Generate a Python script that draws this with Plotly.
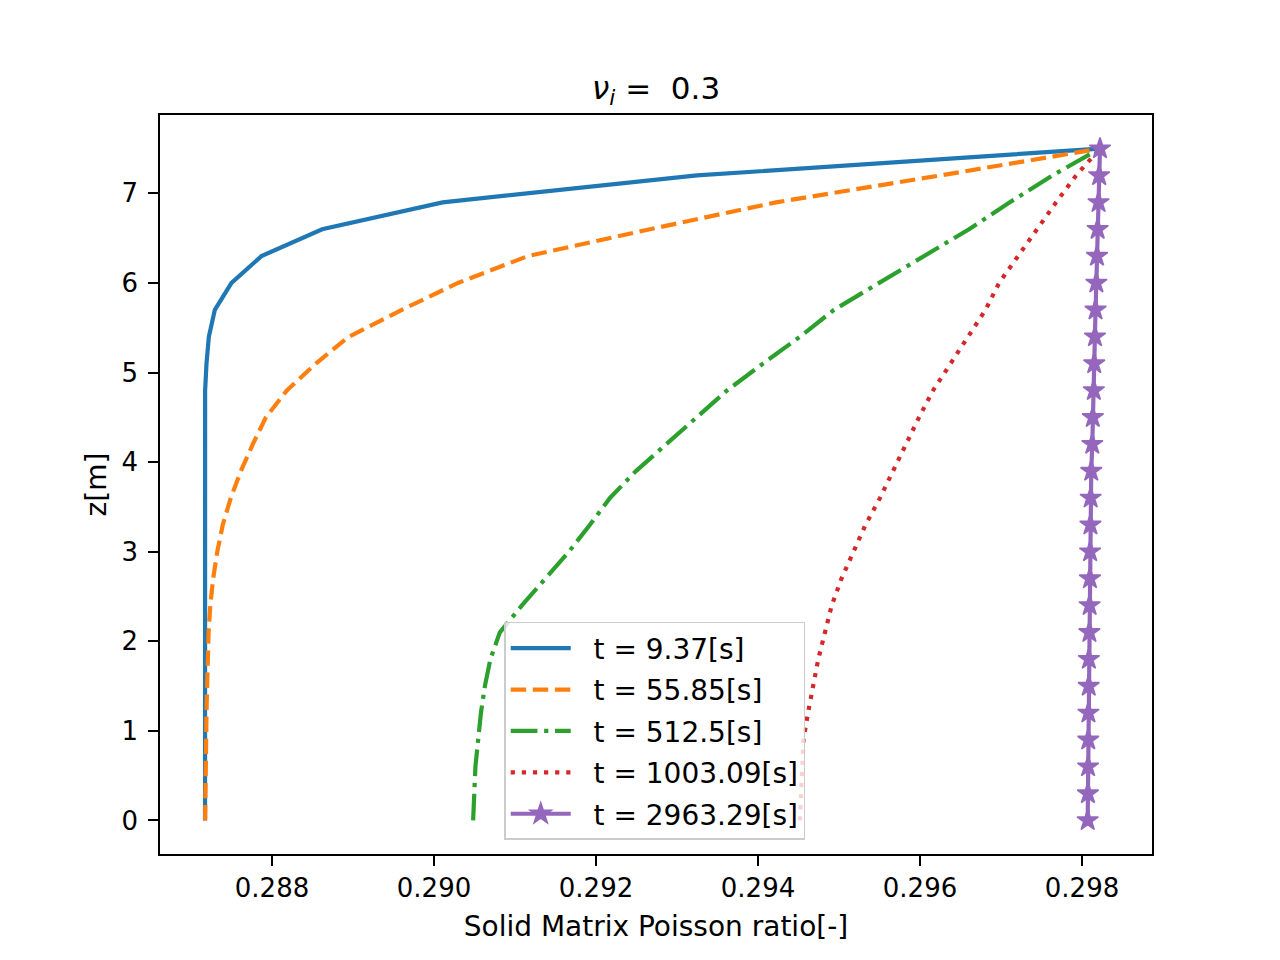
import plotly.graph_objects as go

# depth positions (m)
z = [0.0, 0.3, 0.6, 0.9, 1.2, 1.5, 1.8, 2.1, 2.4, 2.7, 3.0, 3.3, 3.6,
     3.9, 4.2, 4.5, 4.8, 5.1, 5.4, 5.7, 6.0, 6.3, 6.6, 6.9, 7.2, 7.5]

nu_t1 = [0.287173, 0.287173, 0.287173, 0.287173, 0.287173, 0.287173,
         0.287173, 0.287173, 0.287173, 0.287173, 0.287173, 0.287173,
         0.287173, 0.287173, 0.287173, 0.287173, 0.287174, 0.287191,
         0.287220, 0.287294, 0.287500, 0.287870, 0.288619, 0.290106,
         0.293246, 0.298222]
nu_t2 = [0.287174, 0.287176, 0.287180, 0.287185, 0.287191, 0.287199,
         0.287207, 0.287217, 0.287238, 0.287273, 0.287324, 0.287392,
         0.287491, 0.287615, 0.287763, 0.287924, 0.288183, 0.288541,
         0.288948, 0.289603, 0.290295, 0.291159, 0.292666, 0.294222,
         0.296247, 0.298222]
nu_t3 = [0.290483, 0.290495, 0.290511, 0.290545, 0.290579, 0.290628,
         0.290696, 0.290813, 0.291085, 0.291375, 0.291665, 0.291925,
         0.292172, 0.292493, 0.292863, 0.293246, 0.293617, 0.294061,
         0.294518, 0.294938, 0.295494, 0.296037, 0.296605, 0.297109,
         0.297635, 0.298222]
nu_t4 = [0.294518, 0.294528, 0.294543, 0.294561, 0.294617, 0.294682,
         0.294744, 0.294827, 0.294910, 0.295031, 0.295173, 0.295327,
         0.295506, 0.295667, 0.295821, 0.295988, 0.296161, 0.296370,
         0.296593, 0.296809, 0.296976, 0.297210, 0.297439, 0.297680,
         0.297927, 0.298222]
nu_t5 = [0.298070, 0.298073, 0.298075, 0.298077, 0.298079, 0.298083,
         0.298085, 0.298091, 0.298094, 0.298098, 0.298100, 0.298104,
         0.298107, 0.298114, 0.298127, 0.298133, 0.298146, 0.298151,
         0.298160, 0.298167, 0.298177, 0.298185, 0.298193, 0.298204,
         0.298212, 0.298222]

times = ["9.37", "55.85", "512.5", "1003.09", "2963.29"]
x_ticks = [0.288, 0.290, 0.292, 0.294, 0.296, 0.298]
y_ticks = [0, 1, 2, 3, 4, 5, 6, 7]

series = [nu_t1, nu_t2, nu_t3, nu_t4, nu_t5]
colors = ["#1f77b4", "#ff7f0e", "#2ca02c", "#d62728", "#9467bd"]
# matplotlib '-', '--', '-.', ':', '-*' at lw 1.5pt, 200 dpi
dashes = ["solid", "15.4px,6.7px", "26.7px,6.7px,4.2px,6.7px", "4.2px,6.9px", "solid"]

fig = go.Figure()
for i, (vals, t) in enumerate(zip(series, times)):
    star = i == 4
    fig.add_trace(go.Scatter(
        x=vals, y=z,
        mode="lines+markers" if star else "lines",
        # two no-break spaces widen the gap between sample line and text
        name=f"\u00a0\u00a0t = {t}[s]",
        legendgroup=f"g{i}",
        line=dict(color=colors[i], width=4.2, dash=dashes[i]),
        marker=dict(symbol="star", size=16, color=colors[i],
                    line=dict(color=colors[i], width=1.5)) if star else None,
    ))

axis_style = dict(
    showline=True, linecolor="black", linewidth=2.2, mirror=True,
    ticks="outside", ticklen=9.7, tickwidth=2.2, tickcolor="black",
    showgrid=False, zeroline=False,
    tickfont=dict(size=26, color="black"),
)

fig.update_xaxes(
    range=[0.286617, 0.298864], tickvals=x_ticks, tickformat=".3f",
    ticklabelstandoff=0,
    title=dict(text="Solid Matrix Poisson ratio[-]", font=dict(size=28, color="black"), standoff=14),
    **axis_style,
)
fig.update_yaxes(
    range=[-0.375, 7.875], tickvals=y_ticks, ticklabelstandoff=5,
    title=dict(text="z[m]", font=dict(size=28, color="black"), standoff=7),
    **axis_style,
)

# the page body adds an 8px offset, so margins are shifted to compensate
fig.update_layout(
    width=1280, height=960,
    margin=dict(l=152, r=136, t=107, b=114),
    paper_bgcolor="white", plot_bgcolor="white",
    font=dict(family="DejaVu Sans", size=26, color="black"),
    title=dict(
        text="<i>ν</i><sub><i>i</i></sub> =  0.3",
        x=0.5063, xanchor="center", y=0.9055, yanchor="bottom",
        font=dict(size=31, color="black"),
    ),
    legend=dict(
        x=0.347, y=0.314, xanchor="left", yanchor="top",
        bgcolor="rgba(255,255,255,0.8)", bordercolor="#cccccc", borderwidth=1.5,
        font=dict(size=28, color="black"), tracegroupgap=2, itemwidth=60,
    ),
    showlegend=True,
)

fig.write_html("out.html")
